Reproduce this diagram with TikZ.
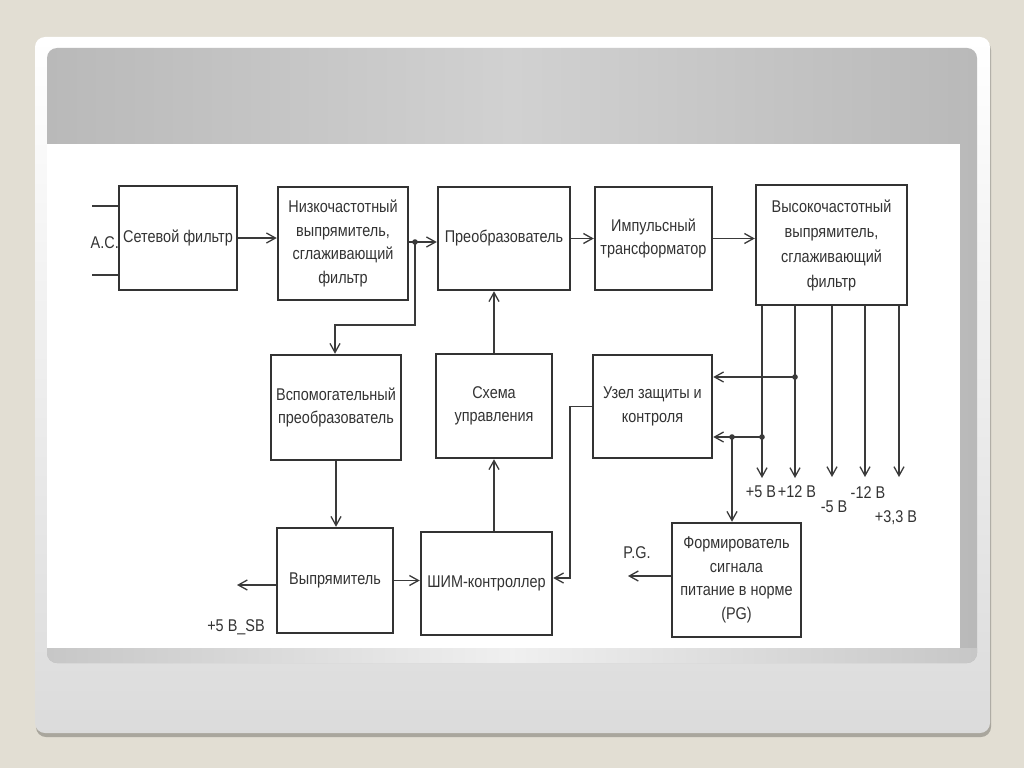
\documentclass[tikz,border=0pt]{standalone}
\usepackage{fontspec}
\setmainfont{Liberation Sans}[FakeStretch=0.85]
\usetikzlibrary{arrows.meta}
\definecolor{bgc}{HTML}{E2DED3}
\definecolor{shadowc}{HTML}{A9A69D}
\definecolor{panelEdge}{HTML}{B9B9B9}
\definecolor{panelMid}{HTML}{D1D1D1}
\definecolor{ink}{HTML}{333333}
\definecolor{linec}{HTML}{3A3A3A}
\tikzset{
  blk/.style={draw=ink, line width=2.5pt, fill=white, inner sep=0pt, align=center,
    text=ink, font=\fontsize{17}{23.5}\selectfont},
  conn/.style={draw=linec, line width=1.3pt},
  arr/.style={conn, -{Straight Barb[length=9pt,width=10pt,line width=1.3pt]}},
  lbl/.style={text=ink, font=\fontsize{17}{20}\selectfont, inner sep=0pt},
  dot/.style={fill=linec}
}
\begin{document}
\begin{tikzpicture}[x=1pt,y=-1pt]
\useasboundingbox (0,0) rectangle (1024,768);
% slide background
\fill[bgc] (0,0) rectangle (1024,768);
\fill[shadowc, rounded corners=10pt] (36,40) rectangle (991,737);
\shade[top color=white, bottom color=white!86!black, rounded corners=10pt] (35,37) rectangle (990,733);
\shade[left color=panelEdge, right color=panelEdge, middle color=panelMid, rounded corners=10pt] (47,48) rectangle (977,663);
\begin{scope}
  \clip (47,648) rectangle (977,664);
  \shade[left color=white!78!black, right color=white!78!black, middle color=white!94!black, rounded corners=10pt] (47,630) rectangle (977,663);
\end{scope}
\fill[white] (47,144) rectangle (960,648);

% blocks
\node[blk, minimum width=118pt, minimum height=104pt] (b1) at (178,238) {Сетевой фильтр};
\node[blk, minimum width=130pt, minimum height=113pt] (b2) at (343,243.5) {Низкочастотный\\выпрямитель,\\сглаживающий\\фильтр};
\node[blk, minimum width=132pt, minimum height=103pt] (b3) at (504,238.5) {Преобразователь};
\node[blk, minimum width=117pt, minimum height=103pt] (b4) at (653.5,238.5) {Импульсный\\трансформатор};
\node[blk, minimum width=151pt, minimum height=120pt, font=\fontsize{17}{25}\selectfont] (b5) at (831.5,245) {Высокочастотный\\выпрямитель,\\сглаживающий\\фильтр};
\node[blk, minimum width=130pt, minimum height=105pt] (b6) at (336,407.5) {Вспомогательный\\преобразователь};
\node[blk, minimum width=116pt, minimum height=104pt] (b7) at (494,406) {Схема\\управления};
\node[blk, minimum width=119pt, minimum height=103pt] (b8) at (652.5,406.5) {Узел защиты и\\контроля};
\node[blk, minimum width=116pt, minimum height=105pt] (b9) at (335,580.5) {Выпрямитель};
\node[blk, minimum width=131pt, minimum height=103pt] (b10) at (486.5,583.5) {ШИМ-контроллер};
\node[blk, minimum width=129pt, minimum height=114pt] (b11) at (736.5,580) {Формирователь\\сигнала\\питание в норме\\(PG)};

% input A.C.
\coordinate (ac1) at (92,206);
\coordinate (ac2) at (92,275);
\draw[conn] (ac1) -- (ac1 -| b1.west);
\draw[conn] (ac2) -- (ac2 -| b1.west);
\node[lbl, anchor=east] (aclbl) at (119,243) {A.C.};

% top chain
\coordinate (j1) at (415,242);
\draw[arr] (b1.east) -- (b1.east -| b2.west);
\draw[conn] (j1 -| b2.east) -- (j1);
\draw[arr] (j1) -- (j1 -| b3.west);
\fill[dot] (j1) circle[radius=2.8pt];
\draw[arr] (b3.east) -- (b3.east -| b4.west);
\draw[arr] (b4.east) -- (b4.east -| b5.west);

% feed to auxiliary converter
\coordinate (c1) at (335,325);
\draw[arr] (j1) |- (c1) -- (c1 |- b6.north);

% control loop
\draw[arr] (b7.north) -- (b7.north |- b3.south);
\draw[arr] (b7.south |- b10.north) -- (b7.south);
\draw[arr] (b6.south) -- (b6.south |- b9.north);
\draw[arr] (b9.east) -- (b9.east -| b10.west);
\coordinate (sb) at (237,585);
\draw[arr] (b9.west |- sb) -- (sb);
\node[lbl] (sblbl) at (236,627) {+5 В\_SB};
\coordinate (c2) at (570,578);
\draw[arr] (b8.west) -| (c2) -- (c2 -| b10.east);

% outputs
\coordinate (o1) at (762,478);
\coordinate (o2) at (795,478);
\coordinate (o3) at (832,477);
\coordinate (o4) at (865,477);
\coordinate (o5) at (899,477);
\draw[arr] (o1 |- b5.south) -- (o1);
\draw[arr] (o2 |- b5.south) -- (o2);
\draw[arr] (o3 |- b5.south) -- (o3);
\draw[arr] (o4 |- b5.south) -- (o4);
\draw[arr] (o5 |- b5.south) -- (o5);
\node[lbl] (v1) at (761,492) {+5 В};
\node[lbl] (v2) at (797,492) {+12 В};
\node[lbl] (v3) at (834,507) {-5 В};
\node[lbl] (v4) at (868,493) {-12 В};
\node[lbl] (v5) at (896,518) {+3,3 В};

% feedback to protection
\coordinate (d1) at (795,377);
\coordinate (d2) at (762,437);
\coordinate (d3) at (732,437);
\draw[arr] (d1) -- (d1 -| b8.east);
\draw[arr] (d2) -- (d2 -| b8.east);
\draw[arr] (d3) -- (d3 |- b11.north);
\fill[dot] (d1) circle[radius=2.8pt];
\fill[dot] (d2) circle[radius=2.8pt];
\fill[dot] (d3) circle[radius=2.8pt];

% PG output
\coordinate (pg) at (628,576);
\draw[arr] (b11.west |- pg) -- (pg);
\node[lbl] (pglbl) at (637,553) {P.G.};
\end{tikzpicture}
\end{document}
